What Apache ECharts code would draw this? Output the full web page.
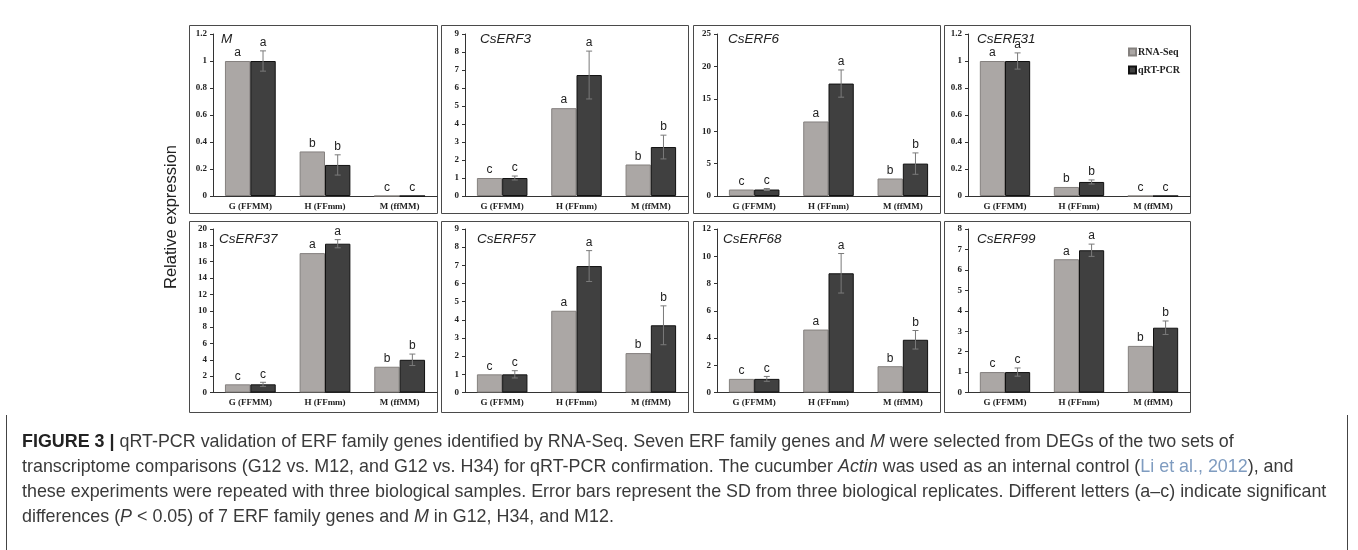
<!DOCTYPE html>
<html><head><meta charset="utf-8">
<script src="https://cdn.jsdelivr.net/npm/echarts@6/dist/echarts.min.js"></script>
<style>html,body{margin:0;padding:0;background:#fff}#c{width:1358px;height:550px}</style>
</head><body><div id="c"></div>
<script>
// ---------- DATA ----------
const categories = ['G (FFMM)', 'H (FFmm)', 'M (ffMM)'];
const genes = ['M', 'CsERF3', 'CsERF6', 'CsERF31', 'CsERF37', 'CsERF57', 'CsERF68', 'CsERF99'];

const rna_M = [1, 0.33, 0];        const qrt_M = [1, 0.23, 0];        const sd_M = [0.075, 0.075, 0];    const let_M = ['a', 'b', 'c'];
const rna_ERF3 = [1, 4.88, 1.75];  const qrt_ERF3 = [1, 6.72, 2.72];  const sd_ERF3 = [0.11, 1.33, 0.66]; const let_ERF3 = ['c', 'a', 'b'];
const rna_ERF6 = [1, 11.5, 2.7];   const qrt_ERF6 = [1, 17.35, 5.0];  const sd_ERF6 = [0.15, 2.1, 1.65];  const let_ERF6 = ['c', 'a', 'b'];
const rna_ERF31 = [1, 0.067, 0];   const qrt_ERF31 = [1, 0.104, 0];   const sd_ERF31 = [0.06, 0.015, 0]; const let_ERF31 = ['a', 'b', 'c'];
const rna_ERF37 = [1, 17.05, 3.15];const qrt_ERF37 = [1, 18.2, 4.0]; const sd_ERF37 = [0.25, 0.5, 0.7]; const let_ERF37 = ['c', 'a', 'b'];
const rna_ERF57 = [1, 4.5, 2.17];  const qrt_ERF57 = [1, 6.96, 3.7];  const sd_ERF57 = [0.2, 0.85, 1.07]; const let_ERF57 = ['c', 'a', 'b'];
const rna_ERF68 = [1, 4.62, 1.93]; const qrt_ERF68 = [1, 8.75, 3.87]; const sd_ERF68 = [0.18, 1.45, 0.68]; const let_ERF68 = ['c', 'a', 'b'];
const rna_ERF99 = [1, 6.52, 2.28]; const qrt_ERF99 = [1, 6.96, 3.17]; const sd_ERF99 = [0.2, 0.3, 0.33]; const let_ERF99 = ['c', 'a', 'b'];

const yMax = [1.2, 9, 25, 1.2, 20, 9, 12, 8];
const yStep = [0.2, 1, 5, 0.2, 2, 1, 2, 1];
const seriesNames = ['RNA-Seq', 'qRT-PCR'];
const yTitle = 'Relative expression';

const rnaAll = [rna_M, rna_ERF3, rna_ERF6, rna_ERF31, rna_ERF37, rna_ERF57, rna_ERF68, rna_ERF99];
const qrtAll = [qrt_M, qrt_ERF3, qrt_ERF6, qrt_ERF31, qrt_ERF37, qrt_ERF57, qrt_ERF68, qrt_ERF99];
const sdAll = [sd_M, sd_ERF3, sd_ERF6, sd_ERF31, sd_ERF37, sd_ERF57, sd_ERF68, sd_ERF99];
const letAll = [let_M, let_ERF3, let_ERF6, let_ERF31, let_ERF37, let_ERF57, let_ERF68, let_ERF99];

// ---------- LAYOUT ----------
const colL = [189, 441, 693, 944], colR = [437, 688, 940, 1190];
const frameT = [25, 221], frameB = [213, 412];
const plotT = [34, 229], plotB = [196, 392.5];
const titlePos = [[221, 32], [480, 32], [728, 32], [977, 32], [219, 232], [477, 232], [723, 232], [977, 232]];
const GAP = 0.32;
const GRAY = '#aba7a5', DARK = '#404040';
const serif = '"Liberation Serif", "Times New Roman", serif';
const sans = '"Liberation Sans", Arial, sans-serif';

const chart = echarts.init(document.getElementById('c'));
const grids = [], xAxes = [], yAxes = [], series = [], titles = [], graphics = [];

for (let i = 0; i < 8; i++) {
  const c = i % 4, r = Math.floor(i / 4);
  grids.push({ left: colL[c] + 24, top: plotT[r], width: colR[c] - colL[c] - 24, height: plotB[r] - plotT[r] });
  xAxes.push({
    type: 'category', gridIndex: i, data: categories,
    axisTick: { show: false },
    axisLine: { lineStyle: { color: '#333', width: 1 } },
    axisLabel: { fontFamily: serif, fontWeight: 'bold', fontSize: 9, color: '#222', margin: 6, interval: 0 }
  });
  yAxes.push({
    type: 'value', gridIndex: i, min: 0, max: yMax[i], interval: yStep[i],
    splitLine: { show: false },
    axisLine: { show: true, lineStyle: { color: '#333', width: 1 } },
    axisTick: { show: true, length: 3, lineStyle: { color: '#333' } },
    axisLabel: { fontFamily: serif, fontWeight: 'bold', fontSize: 9, color: '#222', margin: 6 }
  });
  titles.push({
    text: genes[i], left: titlePos[i][0], top: titlePos[i][1], padding: 0,
    textStyle: { fontFamily: sans, fontStyle: 'italic', fontWeight: 'normal', fontSize: 13.5, color: '#222' }
  });
  const letters = letAll[i];
  series.push({
    name: seriesNames[0], type: 'bar', xAxisIndex: i, yAxisIndex: i,
    data: rnaAll[i], barGap: '0%', barCategoryGap: (GAP * 100) + '%',
    itemStyle: { color: GRAY, borderColor: '#85817f', borderWidth: 1 },
    label: { show: true, position: 'top', distance: 2, fontFamily: sans, fontSize: 12, color: '#222',
      formatter: p => letters[p.dataIndex] }
  });
  series.push({
    name: seriesNames[1], type: 'bar', xAxisIndex: i, yAxisIndex: i,
    data: qrtAll[i], barGap: '0%', barCategoryGap: (GAP * 100) + '%',
    itemStyle: { color: DARK, borderColor: '#111', borderWidth: 1 }
  });
  const errData = qrtAll[i].map((v, k) => [k, v, sdAll[i][k]]);
  series.push({
    type: 'custom', xAxisIndex: i, yAxisIndex: i, z: 5, data: errData,
    encode: { x: 0, y: 1 }, clip: false,
    renderItem: (params, api) => {
      const k = api.value(0), v = api.value(1), e = api.value(2);
      const band = api.size([1, 0])[0];
      const off = band * (1 - GAP) / 4;
      const base = api.coord([k, v]);
      const cx = base[0] + off;
      const children = [];
      let topY = base[1];
      if (e > 0) {
        const yT = api.coord([k, v + e])[1], yB = api.coord([k, v - e])[1];
        const st = { stroke: '#7a7a7a', lineWidth: 1 };
        children.push({ type: 'line', shape: { x1: cx, y1: yT, x2: cx, y2: yB }, style: st });
        children.push({ type: 'line', shape: { x1: cx - 3, y1: yT, x2: cx + 3, y2: yT }, style: st });
        children.push({ type: 'line', shape: { x1: cx - 3, y1: yB, x2: cx + 3, y2: yB }, style: st });
        topY = yT;
      }
      children.push({ type: 'text', x: cx, y: topY - 2,
        style: { text: letters[k], textAlign: 'center', textVerticalAlign: 'bottom', font: '12px ' + sans, fill: '#222' } });
      return { type: 'group', children };
    }
  });
  graphics.push({ type: 'rect', silent: true, z: -1,
    shape: { x: colL[c] + 0.5, y: frameT[r] + 0.5, width: colR[c] - colL[c], height: frameB[r] - frameT[r] },
    style: { fill: 'none', stroke: '#4a4a4a', lineWidth: 1 } });
}

graphics.push({ type: 'text', x: 171, y: 217, rotation: Math.PI / 2,
  style: { text: yTitle, textAlign: 'center', textVerticalAlign: 'middle', font: '16.5px ' + sans, fill: '#222' } });

// caption
const FS = 17.9;
const capFont = FS + 'px ' + sans;
const capRich = {
  b: { font: 'bold ' + FS + 'px ' + sans, fill: '#222' },
  i: { font: 'italic ' + FS + 'px ' + sans, fill: '#3a3a3a' },
  l: { font: FS + 'px ' + sans, fill: '#7f9cc0' },
  n: { font: FS + 'px ' + sans, fill: '#3a3a3a' }
};
const capLines = [
  '{b|FIGURE 3 |}{n| qRT-PCR validation of ERF family genes identified by RNA-Seq. Seven ERF family genes and }{i|M}{n| were selected from DEGs of the two sets of}',
  '{n|transcriptome comparisons (G12 vs. M12, and G12 vs. H34) for qRT-PCR confirmation. The cucumber }{i|Actin}{n| was used as an internal control (}{l|Li et al., 2012}{n|), and}',
  '{n|these experiments were repeated with three biological samples. Error bars represent the SD from three biological replicates. Different letters (a–c) indicate significant}',
  '{n|differences (}{i|P}{n| < 0.05) of 7 ERF family genes and }{i|M}{n| in G12, H34, and M12.}'
];
const capY = [442, 467, 492, 517];
capLines.forEach((t, k) => graphics.push({ type: 'text', x: 22, y: capY[k],
  style: { text: t, rich: capRich, font: capFont, fill: '#3a3a3a', textVerticalAlign: 'middle' } }));
graphics.push({ type: 'line', shape: { x1: 6.5, y1: 415, x2: 6.5, y2: 550 }, style: { stroke: '#444', lineWidth: 1 } });
graphics.push({ type: 'line', shape: { x1: 1347.5, y1: 415, x2: 1347.5, y2: 550 }, style: { stroke: '#444', lineWidth: 1 } });

chart.setOption({
  animation: false,
  title: titles,
  grid: grids, xAxis: xAxes, yAxis: yAxes, series,
  legend: {
    data: seriesNames, orient: 'vertical', left: 1128, top: 47, itemWidth: 7, itemHeight: 7, itemGap: 8,
    icon: 'rect', selectedMode: false, padding: 0,
    textStyle: { fontFamily: serif, fontWeight: 'bold', fontSize: 10, color: '#222', padding: [0, 0, 0, -3] }
  },
  graphic: graphics
});
</script></body></html>
